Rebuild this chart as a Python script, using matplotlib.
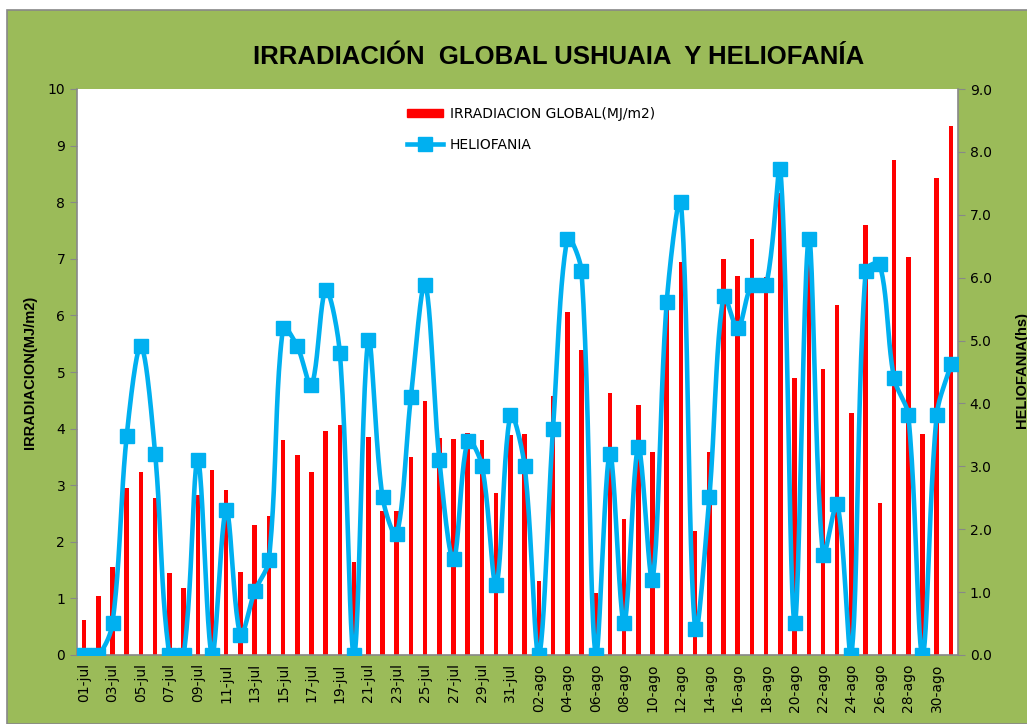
import numpy as np
import matplotlib
matplotlib.use("Agg")
import matplotlib.pyplot as plt
from matplotlib.patches import Rectangle
from matplotlib.lines import Line2D


# datos: 01-jul a 31-ago
dias = [f"{d:02d}-jul" for d in range(1, 32)] + [f"{d:02d}-ago" for d in range(1, 32)]

irradiacion = [0.61, 1.05, 1.55, 2.95, 3.23, 2.78, 1.45, 1.18, 2.83, 3.26,
               2.91, 1.47, 2.29, 2.46, 3.79, 3.53, 3.23, 3.95, 4.07, 1.64,
               3.86, 2.55, 2.55, 3.49, 4.49, 3.83, 3.81, 3.93, 3.79, 2.87,
               3.88, 3.90, 1.31, 4.58, 6.06, 5.38, 1.09, 4.63, 2.41, 4.42,
               3.58, 6.20, 6.95, 2.19, 3.58, 6.99, 6.70, 7.35, 6.68, 8.17,
               4.89, 7.30, 5.05, 6.18, 4.28, 7.60, 2.68, 8.75, 7.04, 3.91,
               8.42, 9.35]

heliofania = [0.0, 0.0, 0.51, 3.49, 4.91, 3.20, 0.0, 0.0, 3.10, 0.0,
              2.31, 0.32, 1.01, 1.51, 5.20, 4.91, 4.29, 5.80, 4.80, 0.0,
              5.01, 2.51, 1.92, 4.11, 5.89, 3.10, 1.52, 3.41, 3.01, 1.12,
              3.81, 3.01, 0.0, 3.60, 6.62, 6.11, 0.0, 3.20, 0.51, 3.30,
              1.20, 5.61, 7.20, 0.41, 2.51, 5.71, 5.20, 5.89, 5.89, 7.72,
              0.51, 6.62, 1.59, 2.40, 0.0, 6.11, 6.21, 4.40, 3.81, 0.0,
              3.81, 4.62]

VERDE = "#9BBB59"
ROJO = "#FF0000"
CELESTE = "#00B0F0"
GRIS = "#888888"


def suavizar(x, y, sx, sy, n=24):
    # curva suavizada estilo excel: bezier con tangentes proporcionales
    # a la longitud de cada tramo (medida en pixeles)
    x = np.asarray(x, float)
    y = np.asarray(y, float)
    px = np.concatenate([[x[0]], x, [x[-1]]])
    py = np.concatenate([[y[0]], y, [y[-1]]])

    def dist(i, j):
        return np.hypot((px[j] - px[i]) * sx, (py[j] - py[i]) * sy)

    xs, ys = [], []
    t = np.linspace(0, 1, n, endpoint=False)
    for i in range(1, len(px) - 2):
        d01, d12, d23 = dist(i - 1, i), dist(i, i + 1), dist(i + 1, i + 2)
        f1 = d12 / (d01 + d12) if d01 + d12 > 0 else 0
        f2 = d12 / (d12 + d23) if d12 + d23 > 0 else 0
        c1x = px[i] + (px[i + 1] - px[i - 1]) * f1 / 3
        c1y = py[i] + (py[i + 1] - py[i - 1]) * f1 / 3
        c2x = px[i + 1] - (px[i + 2] - px[i]) * f2 / 3
        c2y = py[i + 1] - (py[i + 2] - py[i]) * f2 / 3
        b0, b1, b2, b3 = (1 - t) ** 3, 3 * t * (1 - t) ** 2, 3 * t ** 2 * (1 - t), t ** 3
        xs.append(b0 * px[i] + b1 * c1x + b2 * c2x + b3 * px[i + 1])
        ys.append(b0 * py[i] + b1 * c1y + b2 * c2y + b3 * py[i + 1])
    xs.append([x[-1]])
    ys.append([y[-1]])
    return np.concatenate(xs), np.concatenate(ys)


fig = plt.figure(figsize=(10.27, 7.24), dpi=100)
fig.patch.set_facecolor("white")
fig.patches.append(Rectangle((7 / 1027, 0), 1.0, 1 - 10 / 724, transform=fig.transFigure,
                             facecolor=VERDE, edgecolor=GRIS, linewidth=1.2, zorder=-10))

ax = fig.add_axes([77 / 1027, (724 - 655) / 724, (958 - 77) / 1027, (655 - 89) / 724])
ax.set_facecolor("white")
x = np.arange(len(dias))
barras = ax.bar(x, irradiacion, width=0.32, color=ROJO, zorder=2)
ax.set_xlim(-0.5, len(dias) - 0.5)
ax.set_ylim(0, 10)
ax.set_yticks(range(0, 11))
ax.set_xticks(x[::2])
ax.set_xticklabels(dias[::2], rotation=90, fontsize=10, family="DejaVu Sans")
ax.tick_params(axis="x", length=0, pad=6)
ax.tick_params(axis="y", direction="out", length=5, color=GRIS, labelsize=10)
for s in ["top", "right"]:
    ax.spines[s].set_visible(False)
for s in ["left", "bottom"]:
    ax.spines[s].set_color(GRIS)
    ax.spines[s].set_linewidth(1.2)

ax2 = ax.twinx()
# escala en pixeles de cada eje para el suavizado
px_x = (958 - 77) / len(dias)
px_y = (655 - 89) / 9.0
xs, ys = suavizar(x, heliofania, px_x, px_y)
ax2.plot(xs, ys, color=CELESTE, linewidth=3.3, solid_capstyle="round", zorder=3)
ax2.plot(x, heliofania, linestyle="none", marker="s", markersize=10, color=CELESTE, zorder=4)
ax2.set_ylim(0, 9)
ax2.set_yticks(np.arange(0, 10))
ax2.set_yticklabels([f"{v:.1f}" for v in range(0, 10)])
ax2.tick_params(axis="y", direction="out", length=5, color=GRIS, labelsize=10)
for s in ["top", "left", "bottom"]:
    ax2.spines[s].set_visible(False)
ax2.spines["right"].set_color(GRIS)
ax2.spines["right"].set_linewidth(1.2)

# leyenda sin marco
h_barra = Rectangle((0, 0), 1, 1, color=ROJO)
h_linea = Line2D([], [], color=CELESTE, linewidth=3.3, marker="s", markersize=10)
ax2.legend([h_barra, h_linea], ["IRRADIACION GLOBAL(MJ/m2)", "HELIOFANIA"],
           loc="upper left", bbox_to_anchor=(0.36, 0.99), frameon=False, fontsize=10,
           handlelength=2.6, handleheight=0.5, labelspacing=1.2, handletextpad=0.5)

fig.text(559 / 1027, 1 - 57 / 724, "IRRADIACIÓN  GLOBAL USHUAIA  Y HELIOFANÍA",
         ha="center", va="center", fontsize=18.5, fontweight="bold",
         family="Liberation Sans")
fig.text(30 / 1027, 1 - 372 / 724, "IRRADIACION(MJ/m2)", rotation=90, ha="center", va="center",
         fontsize=10.5, fontweight="bold", family="Liberation Sans")
fig.text(1022 / 1027, 1 - 370 / 724, "HELIOFANIA(hs)", rotation=90, ha="center", va="center",
         fontsize=10.5, fontweight="bold", family="Liberation Sans")

fig.savefig("out.png", dpi=100, facecolor=fig.get_facecolor())
